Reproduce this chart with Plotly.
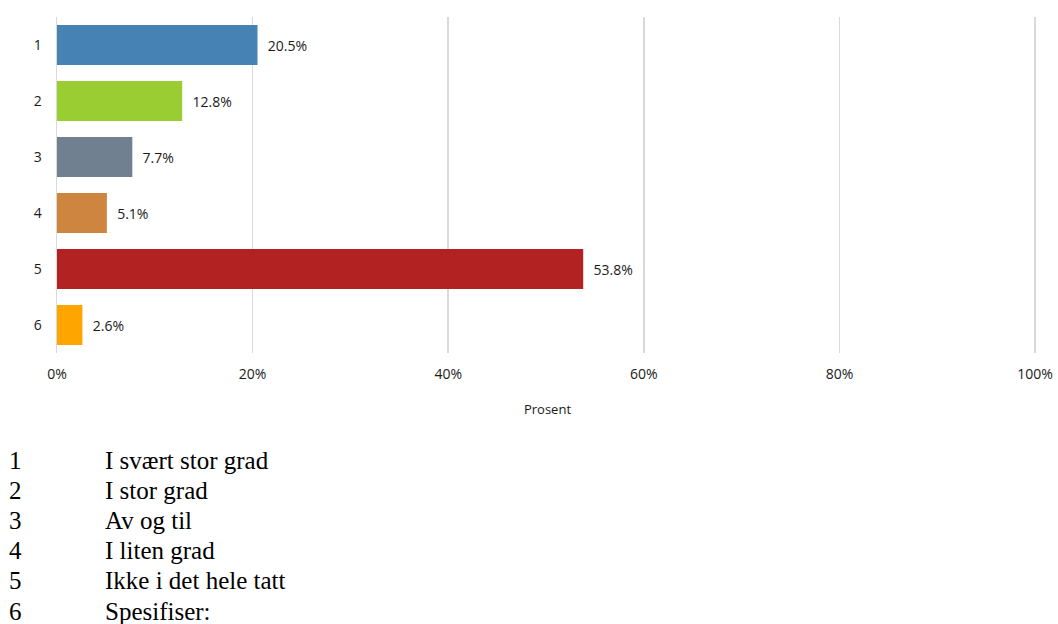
import plotly.graph_objects as go

categories = ["1", "2", "3", "4", "5", "6"]
values = [20.5, 12.8, 7.7, 5.1, 53.8, 2.6]
bar_colors = ["#4682B4", "#9ACD32", "#708090", "#CD853F", "#B22222", "#FFA500"]
x_ticks = [0, 20, 40, 60, 80, 100]
x_tick_labels = ["0%", "20%", "40%", "60%", "80%", "100%"]
axis_title = "Prosent"
legend_numbers = ["1", "2", "3", "4", "5", "6"]
legend_labels = ["I svært stor grad", "I stor grad", "Av og til", "I liten grad",
                 "Ikke i det hele tatt", "Spesifiser:"]

W, H = 1058, 624
L, T = 57, 17
R = 20
B = H - 353
plot_w = W - L - R
plot_h = H - T - B

fig = go.Figure(go.Bar(
    y=categories,
    x=values,
    orientation="h",
    marker=dict(color=bar_colors, line=dict(width=0)),
    width=0.714,
    text=[f"{v:.1f}%" for v in values],
    texttemplate="  %{text}",
    textposition="outside",
    cliponaxis=False,
    textfont=dict(family="Open Sans", size=14, color="#1a1a1a"),
    hoverinfo="skip",
))

fig.update_xaxes(
    range=[0, 100.3],
    tickvals=x_ticks,
    ticktext=x_tick_labels,
    ticklabeloverflow="allow",
    showgrid=True,
    gridcolor="#d9d9d9",
    gridwidth=1.5,
    zeroline=False,
    showline=False,
    ticks="",
    ticklabelstandoff=11,
    tickfont=dict(family="Open Sans", size=14, color="#1a1a1a"),
    title=dict(text=axis_title, font=dict(family="Open Sans", size=13, color="#1a1a1a"), standoff=22),
)
fig.update_yaxes(
    categoryorder="array",
    categoryarray=categories,
    autorange="reversed",
    range=[5.5, -0.5],
    showgrid=False,
    zeroline=False,
    showline=True,
    linecolor="#d9d9d9",
    linewidth=1.5,
    ticks="",
    ticklabelstandoff=11,
    tickfont=dict(family="Open Sans", size=14, color="#1a1a1a"),
)

annotations = []
for i, (n, lab) in enumerate(zip(legend_numbers, legend_labels)):
    py = 460 + i * 30.2
    yp = (H - B - py) / plot_h
    annotations.append(dict(
        text=n, xref="paper", yref="paper",
        x=(15 - L) / plot_w, y=yp, xanchor="center", yanchor="middle",
        showarrow=False, font=dict(family="Liberation Serif", size=25, color="#000000"),
    ))
    annotations.append(dict(
        text=lab, xref="paper", yref="paper",
        x=(103 - L) / plot_w, y=yp, xanchor="left", yanchor="middle",
        showarrow=False, font=dict(family="Liberation Serif", size=25, color="#000000"),
    ))

fig.update_layout(
    width=W, height=H,
    margin=dict(l=L, r=R, t=T, b=B, autoexpand=False),
    paper_bgcolor="white",
    plot_bgcolor="white",
    showlegend=False,
    bargap=0.286,
    annotations=annotations,
)

fig.write_html(
    "out.html",
    config={"displayModeBar": False, "staticPlot": True},
    post_script="document.body.style.margin='0';document.body.style.overflow='hidden';",
)
